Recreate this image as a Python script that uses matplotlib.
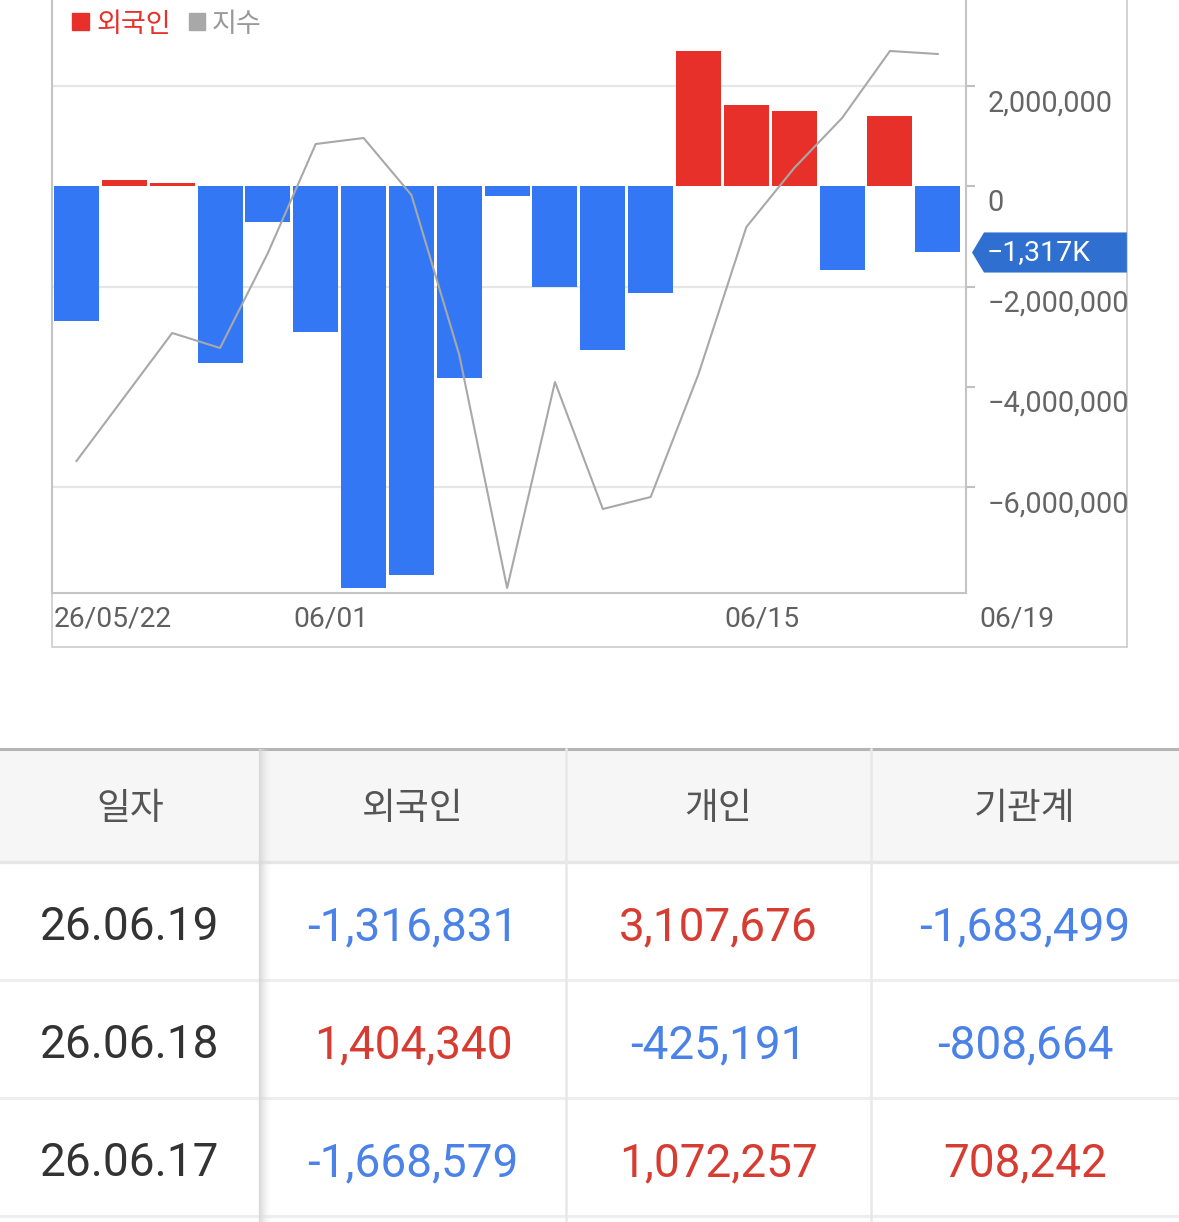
import numpy as np
import matplotlib.pyplot as plt
from matplotlib.patches import Rectangle, Polygon
from matplotlib.transforms import blended_transform_factory, ScaledTranslation

plt.rcParams['font.family'] = ['Noto Sans CJK KR', 'DejaVu Sans']
NUM_FONT = ['Roboto', 'Noto Sans CJK KR', 'DejaVu Sans']

# ---- data ----------------------------------------------------------
dates = ['26/05/22', '05/26', '05/27', '05/28', '05/29', '06/01', '06/02',
         '06/04', '06/05', '06/08', '06/09', '06/10', '06/11', '06/12',
         '06/15', '06/16', '06/17', '06/18', '06/19']
foreign = [-2680000, 130000, 75000, -3520000, -700000, -2910000, -8010000,
           -7760000, -3820000, -190000, -2000000, -3270000, -2120000,
           2700000, 1620000, 1500000, -1668579, 1404340, -1316831]
index_vals = [2666, 2698, 2730, 2722.5, 2770, 2824.5, 2827.5, 2799, 2719,
              2602.5, 2705.5, 2642, 2648, 2709.5, 2783, 2812.5, 2837.5,
              2871, 2869.5]
date_ticks = [0, 5, 14]
yticks = [2000000, 0, -2000000, -4000000, -6000000]
grid_levels = [2000000, -2000000, -6000000]

tbl_header = ['일자', '외국인', '개인', '기관계']
tbl_dates = ['26.06.19', '26.06.18', '26.06.17']
tbl_foreign = foreign[::-1][:3]
tbl_indiv = [3107676, -425191, 1072257]
tbl_inst = [-1683499, -808664, 708242]

RED = '#e8302b'
BLUE = '#3477f5'
GRAY_LINE = '#a8a8a8'
T_RED = '#d63c31'
T_BLUE = '#4a82e8'

W, H = 1179, 1222
fig = plt.figure(figsize=(W / 100, H / 100), dpi=100)

# background axes in pixel coordinates for frame, legend and table
bg = fig.add_axes([0, 0, 1, 1])
bg.set_xlim(0, W)
bg.set_ylim(H, 0)
bg.axis('off')

# outer chart frame
bg.add_patch(Rectangle((52, -10), 1127 - 52, 647 + 10, fill=False,
                       ec='#cccccc', lw=1.2))

# ---- chart ---------------------------------------------------------
ax = fig.add_axes([52 / W, 1 - 593 / H, (966 - 52) / W, (593 + 5) / H])
ax.set_facecolor('none')
x = np.arange(len(foreign))
colors = [RED if v > 0 else BLUE for v in foreign]
ax.bar(x, foreign, width=0.94, color=colors, zorder=2)
ax.set_xlim(-0.512, 18.59)
ax.set_ylim(-8.11e6, 3.82e6)
for g in grid_levels:
    ax.axhline(g, color='#e6e6e6', lw=1.6, zorder=1)

ax.spines['top'].set_visible(False)
for s in ['left', 'right', 'bottom']:
    ax.spines[s].set_color('#c4c4c4')
    ax.spines[s].set_linewidth(1.5)

ax.yaxis.tick_right()
ax.set_yticks(yticks)
ax.set_yticklabels([f'{v:,}'.replace('-', '\u2212') for v in yticks],
                   family=NUM_FONT, va='top')
ax.tick_params(axis='y', length=6.5, width=1.5, color='#c0c0c0', pad=9,
               labelsize=20.8, labelcolor='#666666')
shift = ScaledTranslation(0, -3 / 100, fig.dpi_scale_trans)
for lab in ax.get_yticklabels():
    lab.set_transform(lab.get_transform() + shift)
ax.set_xticks([])

xt = blended_transform_factory(ax.transData, ax.transAxes)
for i in date_ticks:
    ax.text(i - 0.47, -26 / 598, dates[i], transform=xt, ha='left',
            va='center', fontsize=20.3, color='#606060', family=NUM_FONT)
ax.text(len(dates) - 1 + 0.86, -26 / 598, dates[-1], transform=xt,
        ha='left', va='center', fontsize=20.3, color='#606060',
        family=NUM_FONT, clip_on=False)

# index line
axl = fig.add_axes(ax.get_position().bounds)
axl.set_facecolor('none')
axl.axis('off')
axl.plot(x, index_vals, color=GRAY_LINE, lw=1.5)
axl.set_xlim(ax.get_xlim())
axl.set_ylim(2600, 2899)

# current value badge
last = foreign[-1]
bt = blended_transform_factory(ax.transAxes, ax.transData)
h = 0.4e6
badge = Polygon([(1.0066, last), (1.0197, last + h), (1.176, last + h),
                 (1.176, last - h), (1.0197, last - h)], closed=True,
                transform=bt, fc='#2f6fd0', ec='none', clip_on=False,
                zorder=5)
ax.add_patch(badge)
ax.text(1.0225, last, f'\u2212{abs(last) / 1000:,.0f}K', transform=bt,
        ha='left', va='center', color='white', fontsize=20.5,
        family=NUM_FONT, zorder=6, clip_on=False)

# legend
bg.add_patch(Rectangle((72, 13), 17, 17, color=RED))
bg.text(96, 24, '외국인', color=RED, fontsize=19.5, va='center', ha='left')
bg.add_patch(Rectangle((189, 13), 16, 17, color='#a8a8a8'))
bg.text(212, 24, '지수', color='#999999', fontsize=19.5, va='center',
        ha='left')

# ---- table ---------------------------------------------------------
col_edges = [0, 260, 566, 871, W]
col_centers = [(col_edges[i] + col_edges[i + 1]) / 2 for i in range(4)]
row_top = 862
row_h = 118

bg.add_patch(Rectangle((0, 749), W, 113, color='#f6f6f6', zorder=0))
bg.plot([0, W], [748.5, 748.5], color='#b5b5b5', lw=2.2)
bg.plot([0, W], [862, 862], color='#e6e6e6', lw=2.4)
for r in range(1, 4):
    yy = row_top + r * row_h
    bg.plot([0, W], [yy, yy], color='#eeeeee', lw=2.2)
for xe in col_edges[2:4]:
    bg.plot([xe, xe], [749, H], color='#e8e8e8', lw=1.8)
# soft shadow next to the first column
for k in range(12):
    bg.plot([259 + k, 259 + k], [749, H], color='#d8d8d8',
            alpha=0.9 * (1 - k / 12) ** 2, lw=1.0)

for c, name in zip(col_centers, tbl_header):
    bg.text(c, 809, name, ha='center', va='center', fontsize=26.5,
            color='#555555')


def val_color(v):
    return T_RED if v > 0 else T_BLUE


for r in range(3):
    yc = row_top + row_h * r + row_h / 2 + 6
    bg.text(col_centers[0], yc, tbl_dates[r], ha='center', va='center',
            fontsize=33, color='#333333', family=NUM_FONT)
    for c, vals in zip(col_centers[1:], [tbl_foreign, tbl_indiv, tbl_inst]):
        v = vals[r]
        bg.text(c, yc, f'{v:,}', ha='center', va='center', fontsize=33,
                color=val_color(v), family=NUM_FONT)

fig.savefig('out.png', dpi=100)
